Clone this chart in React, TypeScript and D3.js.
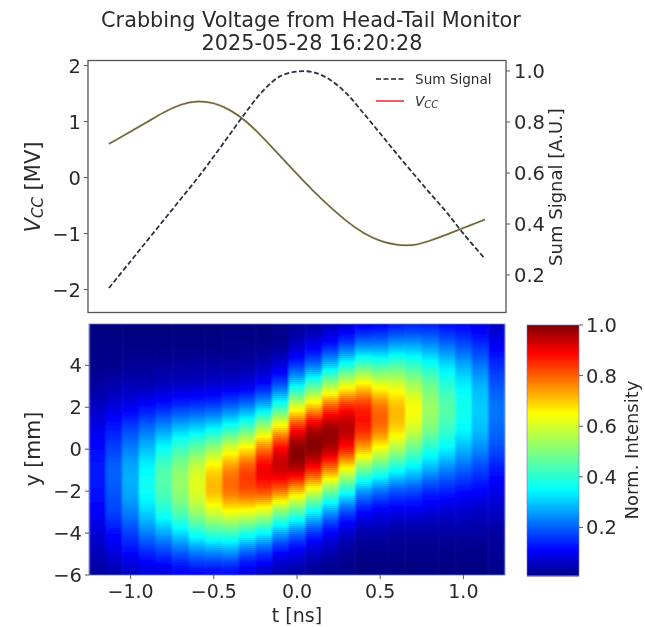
import React from "react";
import * as d3 from "d3";

const lineTimes = [-1.13, -1.0, -0.9, -0.8, -0.7, -0.6, -0.5, -0.4, -0.3, -0.2, -0.1, 0, 0.1, 0.2, 0.3, 0.4, 0.5, 0.6, 0.7, 0.8, 0.9, 1.0, 1.13];
const vccValues = [0.6, 0.82, 0.99, 1.17, 1.31, 1.37, 1.34, 1.21, 1.0, 0.7, 0.38, 0.06, -0.25, -0.53, -0.79, -1.0, -1.14, -1.21, -1.22, -1.13, -1.02, -0.9, -0.75];
const sumValues = [0.149, 0.254, 0.335, 0.416, 0.497, 0.578, 0.665, 0.755, 0.845, 0.925, 0.98, 0.998, 0.995, 0.965, 0.91, 0.834, 0.755, 0.675, 0.597, 0.52, 0.445, 0.362, 0.263];

const heatRowsY = [6, 5, 4, 3, 2, 1, 0, -1, -2, -3, -4, -5, -6];
const heatColumnTimes = [-1.2, -1.1, -1.0, -0.9, -0.8, -0.7, -0.6, -0.5, -0.4, -0.3, -0.2, -0.1, 0, 0.1, 0.2, 0.3, 0.4, 0.5, 0.6, 0.7, 0.8, 0.9, 1.0, 1.1, 1.2];
const heatColumns = [
  [0.0, 0.005, 0.01, 0.03, 0.06, 0.09, 0.115, 0.13, 0.125, 0.105, 0.075, 0.05, 0.03],
  [0.0, 0.005, 0.015, 0.04, 0.08, 0.13, 0.17, 0.2, 0.19, 0.17, 0.12, 0.08, 0.04],
  [0.0, 0.005, 0.02, 0.05, 0.1, 0.17, 0.23, 0.27, 0.27, 0.23, 0.17, 0.11, 0.06],
  [0.0, 0.005, 0.02, 0.05, 0.12, 0.21, 0.29, 0.35, 0.36, 0.31, 0.23, 0.14, 0.08],
  [0.0, 0.005, 0.025, 0.06, 0.14, 0.25, 0.36, 0.44, 0.44, 0.38, 0.27, 0.16, 0.08],
  [0.0, 0.005, 0.025, 0.065, 0.16, 0.29, 0.42, 0.51, 0.52, 0.45, 0.32, 0.19, 0.1],
  [0.0, 0.005, 0.03, 0.07, 0.17, 0.31, 0.47, 0.59, 0.61, 0.53, 0.38, 0.22, 0.11],
  [0.0, 0.005, 0.03, 0.075, 0.18, 0.34, 0.53, 0.68, 0.71, 0.6, 0.42, 0.23, 0.11],
  [0.0, 0.01, 0.03, 0.085, 0.21, 0.39, 0.61, 0.76, 0.78, 0.64, 0.43, 0.24, 0.11],
  [0.0, 0.01, 0.035, 0.095, 0.24, 0.44, 0.67, 0.82, 0.81, 0.63, 0.39, 0.19, 0.08],
  [0.0, 0.01, 0.05, 0.13, 0.3, 0.55, 0.78, 0.9, 0.82, 0.6, 0.35, 0.16, 0.06],
  [0.01, 0.02, 0.08, 0.2, 0.41, 0.68, 0.89, 0.93, 0.78, 0.51, 0.27, 0.11, 0.04],
  [0.02, 0.06, 0.16, 0.35, 0.61, 0.86, 0.99, 0.94, 0.71, 0.45, 0.22, 0.09, 0.03],
  [0.03, 0.09, 0.22, 0.45, 0.71, 0.94, 0.99, 0.86, 0.61, 0.35, 0.16, 0.06, 0.02],
  [0.05, 0.13, 0.3, 0.55, 0.81, 0.97, 0.95, 0.76, 0.49, 0.26, 0.11, 0.04, 0.01],
  [0.07, 0.18, 0.38, 0.63, 0.86, 0.95, 0.86, 0.63, 0.38, 0.18, 0.07, 0.02, 0.01],
  [0.1, 0.23, 0.44, 0.68, 0.85, 0.86, 0.72, 0.48, 0.26, 0.12, 0.04, 0.01, 0.0],
  [0.11, 0.23, 0.42, 0.63, 0.78, 0.78, 0.63, 0.42, 0.22, 0.1, 0.04, 0.01, 0.0],
  [0.13, 0.26, 0.44, 0.61, 0.71, 0.69, 0.55, 0.36, 0.19, 0.09, 0.03, 0.01, 0.0],
  [0.14, 0.26, 0.41, 0.55, 0.64, 0.6, 0.47, 0.32, 0.18, 0.09, 0.03, 0.01, 0.0],
  [0.14, 0.24, 0.37, 0.48, 0.53, 0.5, 0.39, 0.27, 0.15, 0.08, 0.03, 0.01, 0.0],
  [0.12, 0.21, 0.32, 0.4, 0.45, 0.42, 0.34, 0.23, 0.14, 0.07, 0.03, 0.01, 0.0],
  [0.11, 0.18, 0.27, 0.34, 0.37, 0.35, 0.28, 0.2, 0.12, 0.07, 0.03, 0.01, 0.0],
  [0.09, 0.15, 0.22, 0.28, 0.3, 0.29, 0.24, 0.17, 0.11, 0.06, 0.03, 0.01, 0.0],
  [0.06, 0.1, 0.15, 0.19, 0.22, 0.21, 0.18, 0.13, 0.09, 0.06, 0.03, 0.02, 0.01],
];

const voltageTicks = [-2, -1, 0, 1, 2];
const sumTicks = [0.2, 0.4, 0.6, 0.8, 1.0];
const timeTicks = [-1.0, -0.5, 0, 0.5, 1.0];
const heightTicks = [-6, -4, -2, 0, 2, 4];
const barTicks = [0.2, 0.4, 0.6, 0.8, 1.0];
const jetStops = ["#00007f", "#0000ff", "#007fff", "#00ffff", "#7fff7f", "#ffff00", "#ff7f00", "#ff0000", "#7f0000"];
const jetDomain = [0, 0.11, 0.23, 0.35, 0.5, 0.65, 0.77, 0.89, 1];

const FONT = "'DejaVu Sans', sans-serif";
const TEXT = "#2b2b2b";
const SPINE = "#555";

const jet = d3.scaleLinear<string>().domain(jetDomain).range(jetStops).clamp(true);

function catmull(values: number[], f: number) {
  const n = values.length - 1;
  const p = Math.max(0, Math.min(n - 1e-6, f));
  const i = Math.floor(p);
  const u = p - i;
  const a = values[Math.max(0, i - 1)];
  const b = values[i];
  const c = values[i + 1];
  const d = values[Math.min(n, i + 2)];
  const v = 0.5 * (2 * b + (c - a) * u + (2 * a - 5 * b + 4 * c - d) * u * u + (3 * b - a - 3 * c + d) * u * u * u);
  return Math.max(0, v);
}

const fmt1 = (v: number) => v.toFixed(1).replace("-", "\u2212");
const fmt0 = (v: number) => String(v).replace("-", "\u2212");

export default function App() {
  const top = { l: 88, r: 506, t: 60.5, b: 312.5 };
  const bot = { l: 89, r: 505, t: 324, b: 575 };
  const bar = { l: 527, r: 579, t: 325, b: 575.5 };

  const xTop = d3.scaleLinear().domain([-1.25, 1.25]).range([top.l + 1, top.r - 1]);
  const yV = d3.scaleLinear().domain([-2, 2]).range([289.5, 65.5]);
  const yS = d3.scaleLinear().domain([0.2, 1.0]).range([275, 71]);
  const xHeat = d3.scaleLinear().domain([-1.25, 1.25]).range([bot.l, bot.r]);
  const yHeat = d3.scaleLinear().domain([-6, 5.97]).range([bot.b, bot.t]);
  const yBar = d3.scaleLinear().domain([0.01, 1]).range([bar.b, bar.t]);

  const vccLine = d3.line<number>().x((_, i) => xTop(lineTimes[i])).y((d) => yV(d)).curve(d3.curveBasis);
  const sumLine = d3.line<number>().x((_, i) => xTop(lineTimes[i])).y((d) => yS(d)).curve(d3.curveCatmullRom);

  const rowFine = d3.range(bot.t, bot.b, 2);
  const rowIndex = d3.scaleLinear().domain([heatRowsY[0], heatRowsY[heatRowsY.length - 1]]).range([0, heatRowsY.length - 1]);
  const colW = xHeat(-1.15) - xHeat(-1.25);

  const barRows = d3.range(bar.t, bar.b, 1);

  return (
    <svg width={645} height={627} style={{ position: "absolute", left: 0, top: 0, background: "#fff" }} fontFamily={FONT} fill={TEXT}>
      <defs>
        <filter id="soft" x="-5%" y="-5%" width="110%" height="110%">
          <feGaussianBlur stdDeviation="0.9 0.5" />
        </filter>
        <filter id="softText" x="-5%" y="-5%" width="110%" height="110%">
          <feGaussianBlur stdDeviation="0.45" />
        </filter>
        <clipPath id="heatClip">
          <rect x={bot.l} y={bot.t} width={bot.r - bot.l} height={bot.b - bot.t} />
        </clipPath>
      </defs>

      <g filter="url(#softText)">
        <text x={311} y={27} textAnchor="middle" fontSize={20.8}>Crabbing Voltage from Head-Tail Monitor</text>
        <text x={312} y={50} textAnchor="middle" fontSize={20.8}>2025-05-28 16:20:28</text>

        <path d={vccLine(vccValues) || ""} fill="none" stroke="#dcc4a4" strokeWidth={2.2} />
        <path d={vccLine(vccValues) || ""} fill="none" stroke="#66683f" strokeWidth={1.5} />
        <path d={sumLine(sumValues) || ""} fill="none" stroke="#2a3142" strokeWidth={1.8} strokeDasharray="5 2.5" />

        <rect x={top.l} y={top.t} width={top.r - top.l} height={top.b - top.t} fill="none" stroke={SPINE} strokeWidth={1.3} />

        {voltageTicks.map((v) => (
          <g key={v}>
            <line x1={top.l - 4} x2={top.l} y1={yV(v)} y2={yV(v)} stroke={SPINE} />
            <text x={top.l - 7} y={yV(v) + 7} textAnchor="end" fontSize={19.5}>{fmt0(v)}</text>
          </g>
        ))}
        {sumTicks.map((v) => (
          <g key={v}>
            <line x1={top.r} x2={top.r + 4} y1={yS(v)} y2={yS(v)} stroke={SPINE} />
            <text x={top.r + 8} y={yS(v) + 7} fontSize={19.5}>{fmt1(v)}</text>
          </g>
        ))}
        <text transform="translate(40,187) rotate(-90)" textAnchor="middle" fontSize={21}>
          <tspan fontStyle="italic">V</tspan>
          <tspan fontStyle="italic" fontSize={15} dy={3}>CC</tspan>
          <tspan dy={-3}> [MV]</tspan>
        </text>
        <text transform="translate(562,187) rotate(-90)" textAnchor="middle" fontSize={18}>Sum Signal [A.U.]</text>

        <line x1={376} x2={404} y1={79} y2={79} stroke="#1c2233" strokeWidth={1.6} strokeDasharray="5 2.5" />
        <text x={415} y={84} fontSize={13.6}>Sum Signal</text>
        <line x1={376} x2={404} y1={101} y2={101} stroke="#e8262a" strokeWidth={1.5} />
        <text x={415} y={106} fontSize={13.6}>
          <tspan fontStyle="italic">V</tspan>
          <tspan fontStyle="italic" fontSize={10} dy={2}>CC</tspan>
        </text>
      </g>

      <g clipPath="url(#heatClip)">
        <g filter="url(#soft)">
          {heatColumns.map((col, c) =>
            rowFine.map((py) => (
              <rect
                key={`${c}-${py}`}
                x={xHeat(heatColumnTimes[c]) - colW / 2}
                y={py}
                width={colW + 0.4}
                height={2.4}
                fill={jet(catmull(col, rowIndex(yHeat.invert(py + 1))))}
              />
            ))
          )}
        </g>
      </g>
      <rect x={bot.l} y={bot.t} width={bot.r - bot.l} height={bot.b - bot.t} fill="none" stroke="#6f78b8" strokeWidth={0.8} />

      <g>
        {barRows.map((py) => (
          <rect key={py} x={bar.l} y={py} width={bar.r - bar.l} height={1.4} fill={jet(yBar.invert(py + 0.5))} />
        ))}
      </g>
      <rect x={bar.l} y={bar.t} width={bar.r - bar.l} height={bar.b - bar.t} fill="none" stroke="#6f78b8" strokeWidth={0.6} />

      <g filter="url(#softText)">
        {heightTicks.map((v) => (
          <g key={v}>
            <line x1={bot.l - 4} x2={bot.l} y1={yHeat(v)} y2={yHeat(v)} stroke={SPINE} />
            <text x={bot.l - 7} y={yHeat(v) + 7} textAnchor="end" fontSize={19.5}>{fmt0(v)}</text>
          </g>
        ))}
        {timeTicks.map((v) => (
          <g key={v}>
            <line x1={xHeat(v)} x2={xHeat(v)} y1={bot.b} y2={bot.b + 4} stroke={SPINE} />
            <text x={xHeat(v)} y={bot.b + 23} textAnchor="middle" fontSize={19}>{fmt1(v)}</text>
          </g>
        ))}
        <text x={297} y={622} textAnchor="middle" fontSize={19}>t [ns]</text>
        <text transform="translate(40,449) rotate(-90)" textAnchor="middle" fontSize={20.5}>y [mm]</text>

        {barTicks.map((v) => (
          <g key={v}>
            <line x1={bar.r} x2={bar.r + 4} y1={yBar(v)} y2={yBar(v)} stroke={SPINE} />
            <text x={bar.r + 7} y={yBar(v) + 7} fontSize={19.5}>{fmt1(v)}</text>
          </g>
        ))}
        <text transform="translate(638,450) rotate(-90)" textAnchor="middle" fontSize={18}>Norm. Intensity</text>
      </g>
    </svg>
  );
}
